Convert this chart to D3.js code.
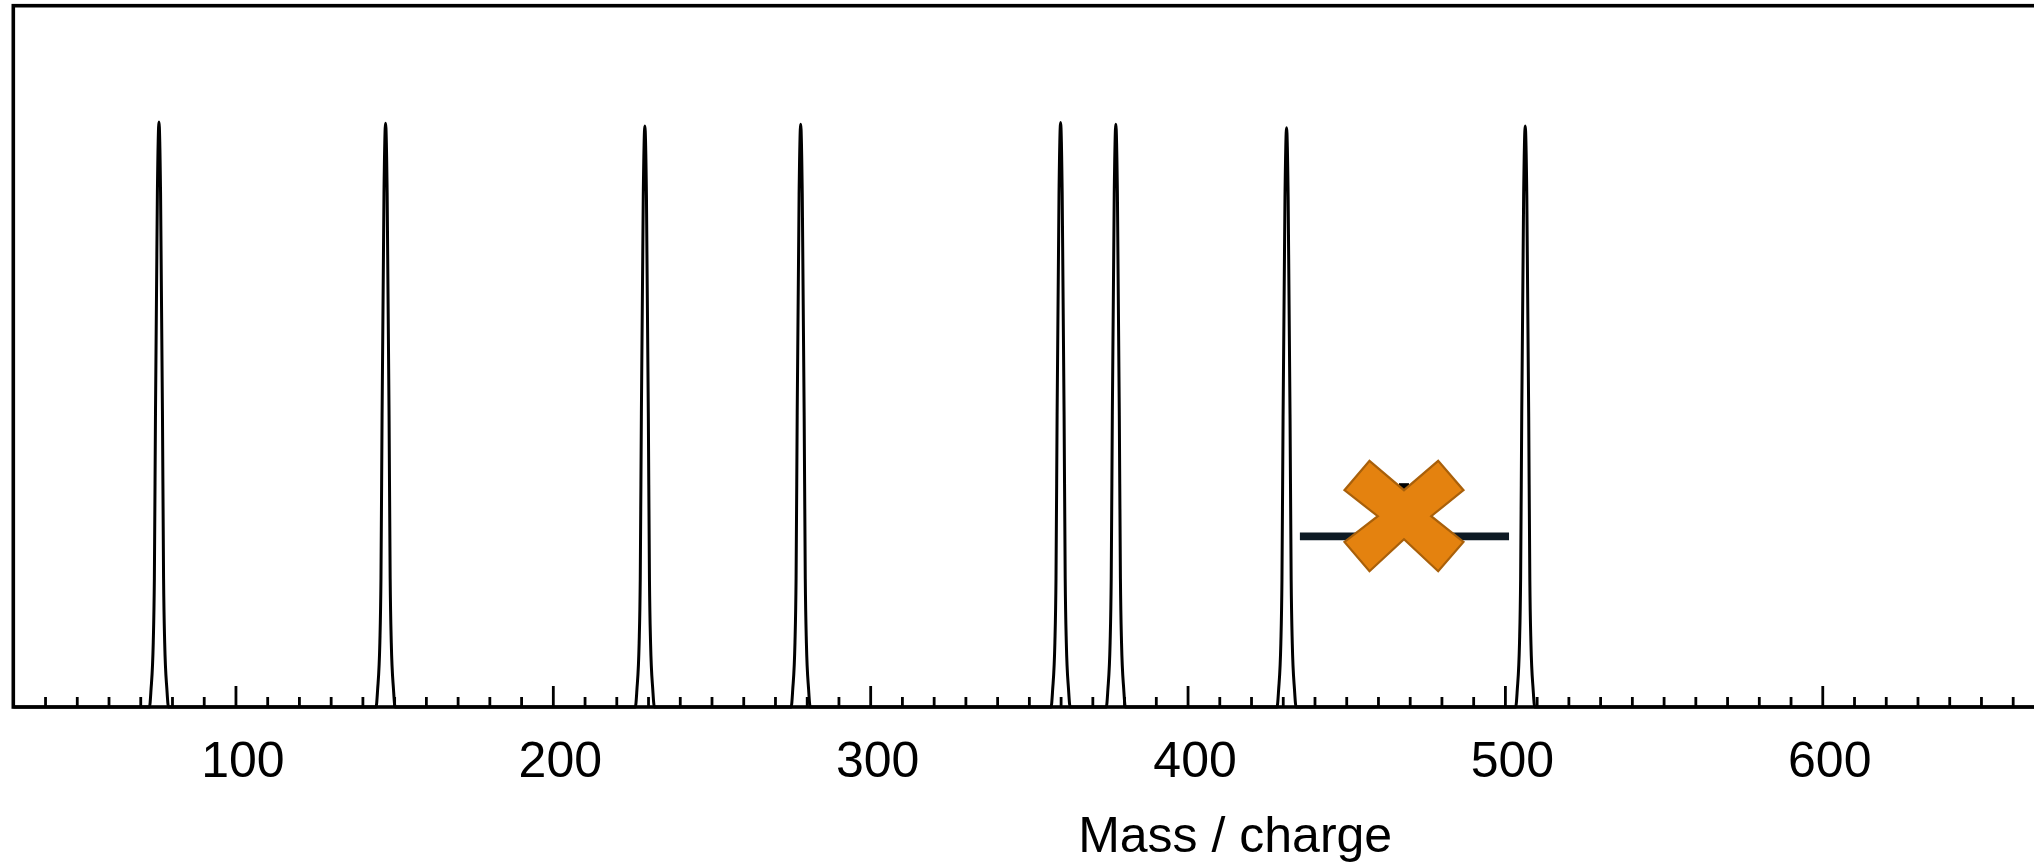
<!DOCTYPE html>
<html>
<head>
<meta charset="utf-8">
<script src="https://cdn.jsdelivr.net/npm/d3@7"></script>
<style>
  html, body { margin: 0; padding: 0; background: #fff; }
  svg { display: block; }
  text { font-family: "Liberation Sans", Arial, Helvetica, sans-serif; }
</style>
</head>
<body>
<svg id="chart" width="2034" height="862"></svg>
<script>
// ---- data ----
const massDomain = [30, 800];
const intensityDomain = [0, 120];
const peakMasses = [75.9, 147.3, 229.0, 278.1, 360.0, 377.4, 431.2, 506.4];
const peakHeights = [100.1, 99.9, 99.4, 99.7, 100.0, 99.7, 99.1, 99.4];
// peak profile: offset in m/z, relative height
const profileOffsets = [-3.0, -2.5, -1.8, -1.45, -1.1, -0.5, 0, 0.5, 1.1, 1.45, 1.8, 2.5, 3.0];
const profileHeights = [0, 0.03, 0.11, 0.22, 0.5, 0.88, 1, 0.88, 0.5, 0.22, 0.11, 0.03, 0];
const majorTicks = [100, 200, 300, 400, 500, 600];
const tickLabels = ["100", "200", "300", "400", "500", "600"];
const minorStep = 10;
const rangeLow = 435.4, rangeHigh = 501.3, rangeIntensity = 29.2;
const markerMass = 468.2, markerIntensity = 32.65;
const xLabel = "Mass / charge";

(function () {
  const svg = d3.select("#chart");
  const mLeft = 13.3, mRight = 2457, mTop = 5.7, mBottom = 707;

  const x = d3.scaleLinear().domain(massDomain).range([mLeft, mRight]);
  const y = d3.scaleLinear().domain(intensityDomain).range([mBottom, mTop]);

  // spectrum points
  const pts = [[massDomain[0], 0]];
  peakMasses.forEach((m, i) => {
    profileOffsets.forEach((o, j) => pts.push([m + o, peakHeights[i] * profileHeights[j]]));
  });
  pts.push([massDomain[1], 0]);

  const line = d3.line().x(d => x(d[0])).y(d => y(d[1])).curve(d3.curveMonotoneX);

  svg.append("path")
    .datum(pts)
    .attr("d", line)
    .attr("fill", "none")
    .attr("stroke", "#000")
    .attr("stroke-width", 3)
    .attr("stroke-linejoin", "round");

  // minor ticks
  const minorTicks = d3.range(massDomain[0] + minorStep, 700, minorStep)
    .filter(v => !majorTicks.includes(v));
  const minorAxis = d3.axisBottom(x).tickValues(minorTicks).tickSize(-10).tickSizeOuter(0).tickFormat("");
  const gMinor = svg.append("g").attr("transform", `translate(0,${mBottom})`).call(minorAxis);
  gMinor.select(".domain").remove();
  gMinor.selectAll(".tick line").attr("stroke", "#000").attr("stroke-width", 2.8);

  // major ticks
  const majorAxis = d3.axisBottom(x).tickValues(majorTicks).tickSize(-21).tickSizeOuter(0)
    .tickFormat((d, i) => tickLabels[i]);
  const gMajor = svg.append("g").attr("transform", `translate(0,${mBottom})`).call(majorAxis);
  gMajor.select(".domain").remove();
  gMajor.selectAll(".tick line").attr("stroke", "#000").attr("stroke-width", 2.8);
  gMajor.selectAll(".tick text")
    .attr("y", 70)
    .attr("dy", null)
    .attr("dx", 7)
    .attr("fill", "#000")
    .style("font-size", "50px")
    .style("font-family", "'Liberation Sans', Arial, sans-serif");

  // frame
  svg.append("rect")
    .attr("x", mLeft).attr("y", mTop)
    .attr("width", mRight - mLeft).attr("height", mBottom - mTop)
    .attr("fill", "none").attr("stroke", "#000").attr("stroke-width", 3.6);

  // range bar
  svg.append("line")
    .attr("x1", x(rangeLow)).attr("x2", x(rangeHigh))
    .attr("y1", y(rangeIntensity)).attr("y2", y(rangeIntensity))
    .attr("stroke", "#0e1a24").attr("stroke-width", 7.7);

  // small dark mark behind marker
  const mx = x(markerMass), my = y(markerIntensity);
  svg.append("rect")
    .attr("x", mx - 5).attr("y", my - 33).attr("width", 10).attr("height", 9)
    .attr("fill", "#000");

  // X marker (shape offsets in px)
  const xShape = [[-34.5,-55.3],[0,-26],[34.2,-55.3],[59.5,-26],[27.2,0],[59.5,25.7],
                  [34.2,55],[0,23],[-34.5,55],[-59.5,25.7],[-26.2,0],[-59.5,-26]];
  svg.append("path")
    .attr("d", "M" + xShape.map(p => [mx + p[0], my + p[1]].join(",")).join("L") + "Z")
    .attr("fill", "#e4820f")
    .attr("stroke", "#a9600a")
    .attr("stroke-width", 2.2)
    .attr("stroke-linejoin", "miter");

  // x label
  svg.append("text")
    .attr("x", (mLeft + mRight) / 2)
    .attr("y", 852)
    .attr("text-anchor", "middle")
    .attr("fill", "#000")
    .style("font-size", "50px")
    .text(xLabel);
})();
</script>
</body>
</html>
